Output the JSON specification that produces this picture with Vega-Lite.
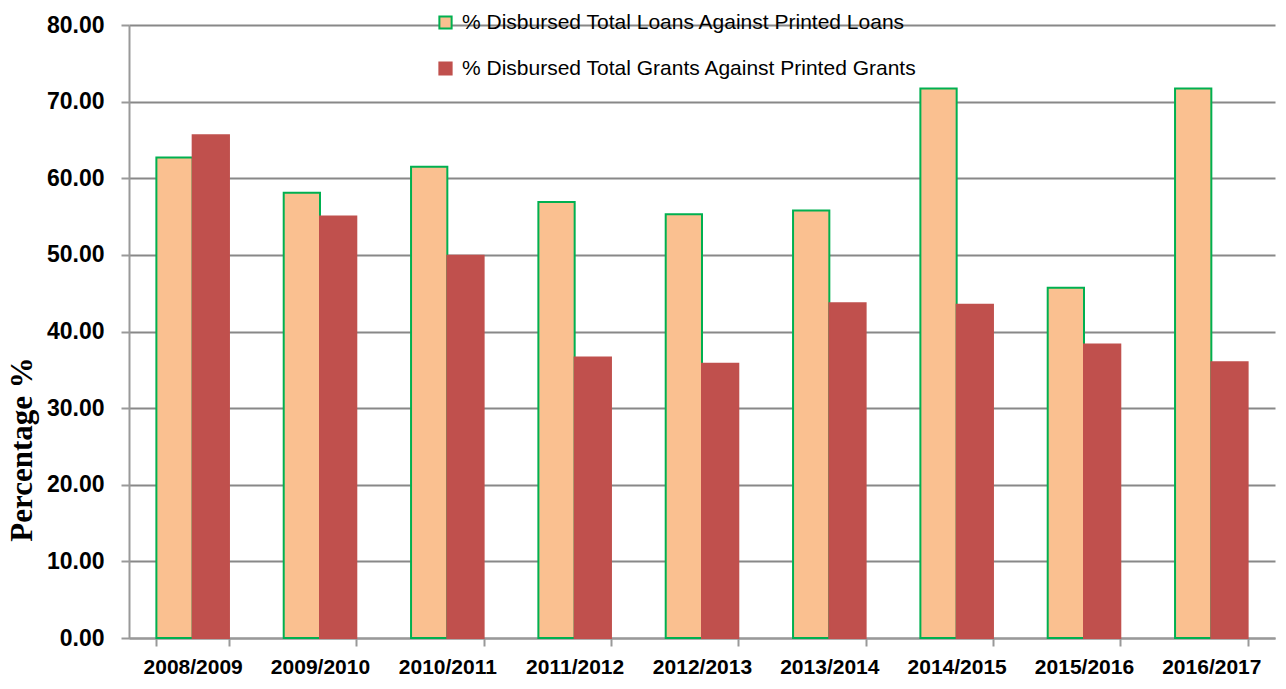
{
  "$schema": "https://vega.github.io/schema/vega-lite/v6.json",
  "autosize": "none",
  "width": 1146,
  "height": 613,
  "padding": {"left": 129, "top": 25, "right": 11, "bottom": 51},
  "background": "white",
  "data": {
    "values": [
      {"year": "2008/2009", "series": "% Disbursed Total Loans Against Printed Loans", "value": 62.7},
      {"year": "2008/2009", "series": "% Disbursed  Total Grants Against Printed Grants", "value": 65.6},
      {"year": "2009/2010", "series": "% Disbursed Total Loans Against Printed Loans", "value": 58.1},
      {"year": "2009/2010", "series": "% Disbursed  Total Grants Against Printed Grants", "value": 55.0},
      {"year": "2010/2011", "series": "% Disbursed Total Loans Against Printed Loans", "value": 61.5},
      {"year": "2010/2011", "series": "% Disbursed  Total Grants Against Printed Grants", "value": 49.9},
      {"year": "2011/2012", "series": "% Disbursed Total Loans Against Printed Loans", "value": 56.9},
      {"year": "2011/2012", "series": "% Disbursed  Total Grants Against Printed Grants", "value": 36.6},
      {"year": "2012/2013", "series": "% Disbursed Total Loans Against Printed Loans", "value": 55.3},
      {"year": "2012/2013", "series": "% Disbursed  Total Grants Against Printed Grants", "value": 35.8},
      {"year": "2013/2014", "series": "% Disbursed Total Loans Against Printed Loans", "value": 55.8},
      {"year": "2013/2014", "series": "% Disbursed  Total Grants Against Printed Grants", "value": 43.7},
      {"year": "2014/2015", "series": "% Disbursed Total Loans Against Printed Loans", "value": 71.7},
      {"year": "2014/2015", "series": "% Disbursed  Total Grants Against Printed Grants", "value": 43.5},
      {"year": "2015/2016", "series": "% Disbursed Total Loans Against Printed Loans", "value": 45.7},
      {"year": "2015/2016", "series": "% Disbursed  Total Grants Against Printed Grants", "value": 38.3},
      {"year": "2016/2017", "series": "% Disbursed Total Loans Against Printed Loans", "value": 71.7},
      {"year": "2016/2017", "series": "% Disbursed  Total Grants Against Printed Grants", "value": 36.0}
    ]
  },
  "config": {
    "view": {"stroke": null},
    "font": "Liberation Sans"
  },
  "mark": {"type": "bar", "strokeWidth": 2},
  "encoding": {
    "x": {
      "field": "year",
      "type": "nominal",
      "sort": null,
      "title": null,
      "scale": {"paddingInner": 0.43, "paddingOuter": 0.215},
      "axis": {
        "labelAngle": 0,
        "labelFont": "Liberation Sans",
        "labelFontSize": 21,
        "labelFontWeight": "bold",
        "labelColor": "#000000",
        "labelPadding": 10,
        "domainColor": "#999999",
        "domainWidth": 2,
        "tickColor": "#999999",
        "tickWidth": 2,
        "tickSize": 8,
        "tickBand": "extent",
        "grid": false
      }
    },
    "xOffset": {"field": "series", "type": "nominal", "sort": null, "scale": {"paddingInner": 0}},
    "y": {
      "field": "value",
      "type": "quantitative",
      "title": "Percentage %",
      "scale": {"domain": [0, 80], "nice": false},
      "axis": {
        "values": [0, 10, 20, 30, 40, 50, 60, 70, 80],
        "format": ".2f",
        "labelFont": "Liberation Sans",
        "labelFontSize": 23,
        "labelFontWeight": "bold",
        "labelColor": "#000000",
        "labelPadding": 17,
        "domainColor": "#999999",
        "domainWidth": 2,
        "tickColor": "#999999",
        "tickWidth": 2,
        "tickSize": 8,
        "grid": true,
        "gridColor": "#888888",
        "gridWidth": 2,
        "titleFont": "Liberation Serif",
        "titleFontSize": 31,
        "titleFontWeight": "bold",
        "titleColor": "#000000",
        "titleX": -107,
        "titleY": 424,
        "titleAlign": "center",
        "titleBaseline": "middle",
        "titleAngle": -90
      }
    },
    "fill": {
      "field": "series",
      "type": "nominal",
      "sort": null,
      "scale": {"range": ["#FAC090", "#C0504D"]},
      "legend": {
        "orient": "none",
        "legendX": 306,
        "legendY": -13,
        "title": null,
        "symbolType": "square",
        "symbolSize": 150,
        "symbolStrokeWidth": 2,
        "labelFont": "Liberation Sans",
        "labelFontSize": 21,
        "labelColor": "#000000",
        "labelLimit": 600,
        "rowPadding": 24,
        "labelOffset": 6
      }
    },
    "stroke": {
      "field": "series",
      "type": "nominal",
      "sort": null,
      "scale": {"range": ["#00B050", "#C0504D"]},
      "legend": null
    }
  }
}
